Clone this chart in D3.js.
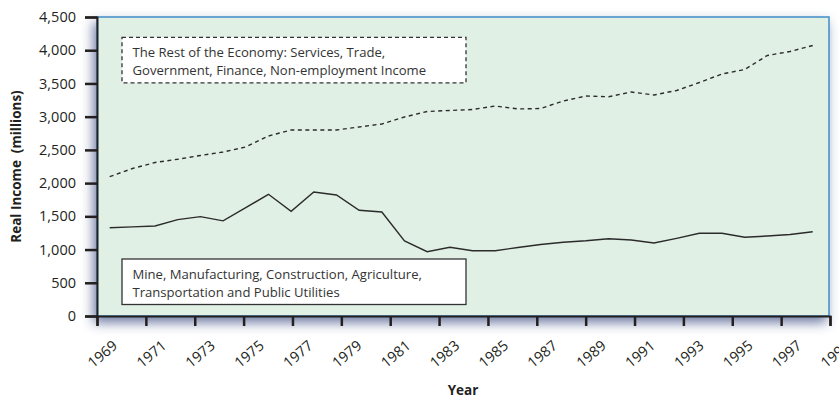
<!DOCTYPE html>
<html>
<head>
<meta charset="utf-8">
<script src="https://d3js.org/d3.v7.min.js"></script>
<style>
  body { margin: 0; background: #fff; }
  text { font-family: "Open Sans", sans-serif; fill: #231f20; }
</style>
</head>
<body>
<div id="chart"></div>
<script>
// data
var years = [1969, 1970, 1971, 1972, 1973, 1974, 1975, 1976, 1977, 1978,
  1979, 1980, 1981, 1982, 1983, 1984, 1985, 1986, 1987, 1988,
  1989, 1990, 1991, 1992, 1993, 1994, 1995, 1996, 1997, 1998, 1999, 2000];

var restOfEconomy = [2097, 2220, 2310, 2359, 2416, 2468, 2544, 2709, 2800, 2800,
  2800, 2845, 2890, 2995, 3078, 3093, 3108, 3161, 3116, 3123,
  3236, 3311, 3300, 3371, 3326, 3394, 3514, 3642, 3710, 3921, 3981, 4071];

var goodsSector = [1329, 1342, 1355, 1450, 1495, 1432, 1630, 1832, 1576, 1866,
  1821, 1591, 1565, 1129, 968, 1034, 983, 983, 1031, 1076,
  1109, 1132, 1163, 1144, 1099, 1169, 1245, 1245, 1185, 1204, 1227, 1269];

var xTickLabels = [1969, 1971, 1973, 1975, 1977, 1979, 1981, 1983, 1985, 1987,
  1989, 1991, 1993, 1995, 1997, 1999];
var yTickValues = [0, 500, 1000, 1500, 2000, 2500, 3000, 3500, 4000, 4500];

var legendRest = ["The Rest of the Economy: Services, Trade,",
  "Government, Finance, Non-employment Income"];
var legendGoods = ["Mine, Manufacturing, Construction, Agriculture,",
  "Transportation and Public Utilities"];

// set the dimensions and margins of the graph
var svgWidth = 839, svgHeight = 401;
var margin = {top: 17, right: 10, bottom: 85, left: 97},
    width = svgWidth - margin.left - margin.right,
    height = svgHeight - margin.top - margin.bottom;

var svg = d3.select("#chart")
  .append("svg")
    .attr("width", svgWidth)
    .attr("height", svgHeight);

// soft shadow behind the plot panel
var defs = svg.append("defs");
defs.append("filter")
    .attr("id", "shadow")
    .attr("x", "-10%").attr("y", "-20%")
    .attr("width", "120%").attr("height", "140%")
  .append("feDropShadow")
    .attr("dx", -3)
    .attr("dy", 6)
    .attr("stdDeviation", 6)
    .attr("flood-color", "#35467e")
    .attr("flood-opacity", 0.7);

var g = svg.append("g")
    .attr("transform", "translate(" + margin.left + "," + margin.top + ")");

// scales
var x = d3.scaleLinear()
  .domain([1969, 1999])
  .range([0, width + 1]);

// the plotted series sit slightly inside the labelled year ticks
var xData = d3.scaleLinear()
  .domain([years[0], years[years.length - 1]])
  .range([12.7, 715.7]);

var y = d3.scaleLinear()
  .domain([0, 4500])
  .range([height, 0]);

// plot panel
g.append("rect")
  .attr("x", 0)
  .attr("y", 0)
  .attr("width", width)
  .attr("height", height)
  .attr("fill", "#e0f0e5")
  .attr("stroke", "#3f8dc6")
  .attr("stroke-width", 1.5)
  .attr("filter", "url(#shadow)");

// lines
var line = function(values) {
  return d3.line()
    .x((d, i) => xData(years[i]))
    .y(d => y(d))(values);
};

g.append("path")
  .attr("d", line(restOfEconomy))
  .attr("fill", "none")
  .attr("stroke", "#2b2b2b")
  .attr("stroke-width", 1.4)
  .attr("stroke-dasharray", "4,3.5");

g.append("path")
  .attr("d", line(goodsSector))
  .attr("fill", "none")
  .attr("stroke", "#2b2b2b")
  .attr("stroke-width", 1.4)
  .attr("stroke-linejoin", "miter");

// legend boxes
function legendBox(lines, top, dashed) {
  var box = g.append("g").attr("transform", "translate(25," + top + ")");
  box.append("rect")
    .attr("width", 344)
    .attr("height", 45.5)
    .attr("fill", "#fff")
    .attr("stroke", "#333")
    .attr("stroke-width", 1.3)
    .attr("stroke-dasharray", dashed ? "4,3" : null);
  box.selectAll("text")
    .data(lines)
    .join("text")
      .attr("x", 10.5)
      .attr("y", (d, i) => 20 + i * 17.8)
      .style("font-size", "13.1px")
      .style("fill", "#333")
      .text(d => d);
}
legendBox(legendRest, 20.3, true);
legendBox(legendGoods, 242, false);

// Y axis
var yAxis = g.append("g")
  .call(d3.axisLeft(y)
    .tickValues(yTickValues)
    .tickSize(12)
    .tickPadding(9)
    .tickFormat(d3.format(",")));
yAxis.select(".domain").attr("stroke", "#231f20").attr("stroke-width", 2);
yAxis.selectAll(".tick line").attr("stroke", "#231f20").attr("stroke-width", 2.5);
yAxis.selectAll("text").style("font-size", "14.5px").attr("fill", "#231f20");

// X axis
var xAxis = g.append("g")
  .attr("transform", "translate(0," + height + ")")
  .call(d3.axisBottom(x)
    .tickValues(xTickLabels)
    .tickSize(10)
    .tickFormat(d3.format("d")));
xAxis.select(".domain").attr("stroke", "#231f20").attr("stroke-width", 2);
xAxis.selectAll(".tick line").attr("stroke", "#231f20").attr("stroke-width", 2.5);
xAxis.selectAll("text")
  .style("font-size", "14.5px")
  .attr("fill", "#231f20")
  .attr("text-anchor", "middle")
  .attr("transform", "translate(5,38) rotate(-40)")
  .attr("y", 0)
  .attr("dy", "0.35em");

// axis titles
svg.append("text")
  .attr("x", margin.left + width / 2)
  .attr("y", 395)
  .attr("text-anchor", "middle")
  .style("font-size", "13.5px")
  .style("font-weight", "bold")
  .text("Year");

svg.append("text")
  .attr("transform", "translate(21," + (margin.top + height / 2) + ") rotate(-90)")
  .attr("text-anchor", "middle")
  .style("font-size", "13.5px")
  .style("font-weight", "bold")
  .style("white-space", "pre")
  .text("Real Income  (millions)");
</script>
</body>
</html>
